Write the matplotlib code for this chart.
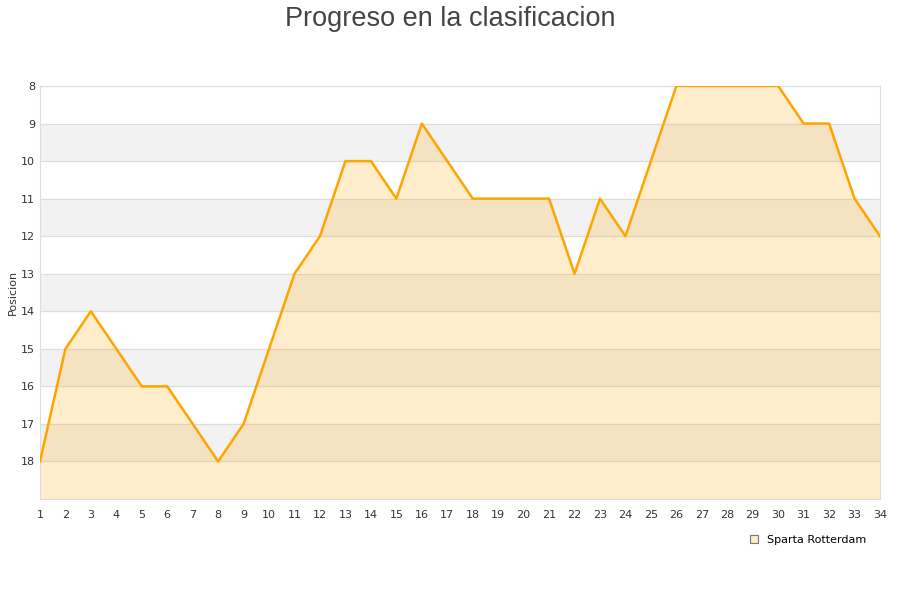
import matplotlib
matplotlib.use("Agg")
import matplotlib.pyplot as plt

rounds = list(range(1, 35))
positions = [18, 15, 14, 15, 16, 16, 17, 18, 17, 15, 13, 12, 10, 10, 11, 9, 10, 11, 11, 11,
             11, 13, 11, 12, 10, 8, 8, 8, 8, 8, 9, 9, 11, 12]
team = "Sparta Rotterdam"
y_ticks = list(range(8, 19))

fig = plt.figure(figsize=(9, 6), dpi=100)
ax = fig.add_axes([0.0444, 0.1683, 0.9334, 0.6884])

# alternating grey bands
for y in range(9, 19, 2):
    ax.axhspan(y, y + 1, color="#f2f2f2", zorder=0)
for y in range(8, 19):
    ax.axhline(y, color="#dddddd", lw=0.8, zorder=1)

ax.fill_between(rounds, positions, 19, color="#ffa500", alpha=0.2, lw=0, zorder=2)
ax.plot(rounds, positions, color="#ffa500", lw=1.8, zorder=3)

ax.set_xlim(1, 34)
ax.set_ylim(19, 8)
ax.set_xticks(rounds)
ax.set_yticks(y_ticks)
ax.tick_params(length=0, labelsize=8, colors="#333333")
ax.tick_params(axis="x", pad=8)
for s in ax.spines.values():
    s.set_color("#dddddd")
ax.set_ylabel("Posicion", fontsize=8, color="#333333", labelpad=2)

fig.text(0.5, 0.968, "Progreso en la clasificacion", ha="center", va="center",
         fontsize=19.5, color="#444444", family="Liberation Sans")

ax.legend([plt.Rectangle((0, 0), 1, 1, facecolor="#ffebc8", edgecolor="#777777", lw=0.8)],
          [team], loc="upper right", bbox_to_anchor=(0.995, -0.062), frameon=False,
          fontsize=8, handlelength=0.7, handleheight=0.7)

fig.savefig("out.png", dpi=100)
